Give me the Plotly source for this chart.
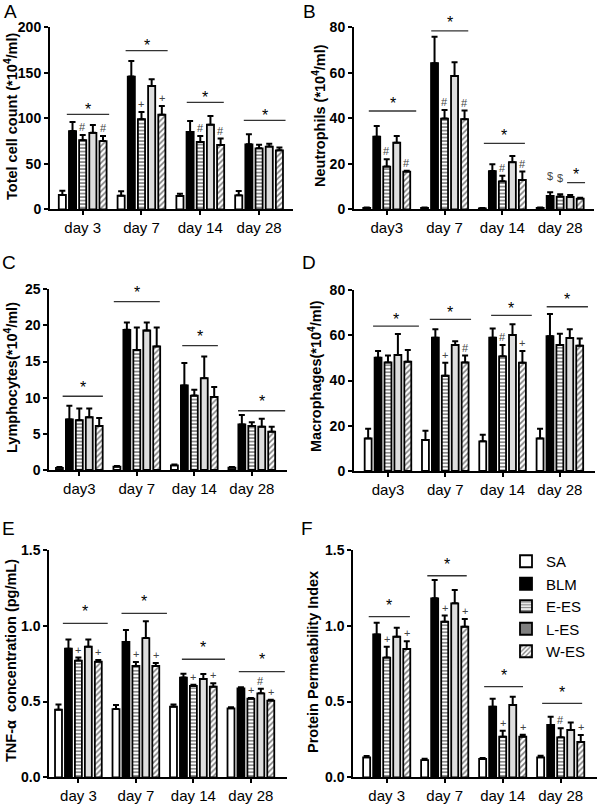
import plotly.graph_objects as go

W, H = 600, 804
FONT = "Liberation Sans"

series = ["SA", "BLM", "E-ES", "L-ES", "W-ES"]
day_pos = [0, 1, 2, 3]
ticks_sp = ["day 3", "day 7", "day 14", "day 28"]
ticks_ns = ["day3", "day 7", "day 14", "day 28"]

# ---------------- Panel A: total cell count ----------------
A_SA = [15.8, 15.0, 14.6, 15.4]
A_BLM = [86.0, 145.8, 85.0, 71.4]
A_EES = [76.0, 99.0, 74.0, 67.0]
A_LES = [84.0, 135.5, 93.0, 68.9]
A_WES = [75.0, 104.0, 70.7, 64.8]
A_SA_err = [4.7, 4.8, 2.6, 4.6]
A_BLM_err = [10.0, 17.2, 12.0, 11.0]
A_EES_err = [5.7, 8.0, 6.6, 4.0]
A_LES_err = [8.7, 7.5, 9.6, 3.1]
A_WES_err = [5.6, 9.5, 7.0, 3.2]
A_sig = [104.4, 174.4, 117.6, 97.8]

# ---------------- Panel B: neutrophils ----------------
B_SA = [0.6, 0.6, 0.4, 0.6]
B_BLM = [31.9, 64.2, 16.8, 5.9]
B_EES = [18.8, 39.9, 12.3, 5.6]
B_LES = [29.3, 58.6, 20.7, 5.4]
B_WES = [16.6, 39.6, 12.9, 4.7]
B_SA_err = [0.2, 0.2, 0.2, 0.2]
B_BLM_err = [4.7, 11.7, 3.0, 1.6]
B_EES_err = [3.2, 3.8, 2.5, 1.0]
B_LES_err = [2.9, 6.0, 2.7, 0.9]
B_WES_err = [0.4, 3.8, 3.7, 0.4]
B_sig = [43.2, 78.4, 29.0, 11.7]

# ---------------- Panel C: lymphocytes ----------------
C_SA = [0.3, 0.46, 0.65, 0.32]
C_BLM = [7.0, 19.4, 11.7, 6.3]
C_EES = [6.9, 16.6, 10.3, 6.1]
C_LES = [7.3, 19.3, 12.7, 6.0]
C_WES = [6.1, 17.1, 10.1, 5.3]
C_SA_err = [0.1, 0.1, 0.1, 0.1]
C_BLM_err = [1.9, 1.0, 3.1, 1.3]
C_EES_err = [1.6, 3.1, 0.8, 0.5]
C_LES_err = [1.2, 1.1, 3.0, 1.1]
C_WES_err = [1.1, 2.6, 1.4, 0.7]
C_sig = [10.2, 23.3, 17.2, 8.2]

# ---------------- Panel D: macrophages ----------------
D_SA = [14.4, 13.7, 13.1, 14.4]
D_BLM = [50.1, 58.9, 58.9, 59.6]
D_EES = [48.0, 42.1, 50.7, 55.7]
D_LES = [51.3, 55.7, 60.1, 58.8]
D_WES = [48.3, 48.0, 47.9, 55.4]
D_SA_err = [4.3, 4.1, 2.9, 4.3]
D_BLM_err = [2.9, 3.7, 4.1, 9.8]
D_EES_err = [3.1, 5.8, 5.0, 5.0]
D_LES_err = [9.2, 1.7, 4.8, 3.8]
D_WES_err = [5.2, 3.0, 5.1, 3.2]
D_sig = [64.0, 67.0, 68.8, 72.6]

# ---------------- Panel E: TNF-alpha ----------------
E_SA = [0.446, 0.450, 0.466, 0.455]
E_BLM = [0.849, 0.893, 0.658, 0.587]
E_EES = [0.770, 0.735, 0.603, 0.519]
E_LES = [0.862, 0.919, 0.649, 0.554]
E_WES = [0.763, 0.735, 0.598, 0.506]
E_SA_err = [0.034, 0.027, 0.014, 0.007]
E_BLM_err = [0.061, 0.079, 0.026, 0.007]
E_EES_err = [0.020, 0.026, 0.008, 0.004]
E_LES_err = [0.048, 0.111, 0.033, 0.031]
E_WES_err = [0.011, 0.019, 0.022, 0.006]
E_sig = [1.016, 1.082, 0.779, 0.697]

# ---------------- Panel F: protein permeability ----------------
F_SA = [0.132, 0.114, 0.121, 0.132]
F_BLM = [0.943, 1.181, 0.466, 0.345]
F_EES = [0.790, 1.027, 0.268, 0.264]
F_LES = [0.928, 1.148, 0.477, 0.312]
F_WES = [0.847, 0.994, 0.268, 0.233]
F_SA_err = [0.009, 0.009, 0.007, 0.011]
F_BLM_err = [0.077, 0.121, 0.053, 0.055]
F_EES_err = [0.072, 0.040, 0.040, 0.059]
F_LES_err = [0.059, 0.088, 0.055, 0.049]
F_WES_err = [0.050, 0.051, 0.013, 0.046]
F_sig = [1.060, 1.330, 0.598, 0.488]

# significance symbols: (day index, series index, symbol)
A_marks = [(0, 2, "#"), (0, 4, "#"), (1, 2, "+"), (1, 4, "+"), (2, 2, "#"), (2, 4, "#")]
B_marks = [(0, 2, "#"), (0, 4, "#"), (1, 2, "#"), (1, 4, "#"), (2, 2, "#"), (2, 4, "#"),
           (3, 1, "$"), (3, 2, "$")]
C_marks = []
D_marks = [(1, 2, "+"), (1, 4, "#"), (2, 2, "#"), (2, 4, "+")]
E_marks = [(0, 2, "+"), (0, 4, "+"), (1, 2, "+"), (1, 4, "+"), (2, 2, "+"), (2, 4, "+"),
           (3, 2, "+"), (3, 3, "#"), (3, 4, "+")]
F_marks = [(0, 2, "+"), (0, 4, "+"), (1, 2, "+"), (1, 4, "+"), (2, 2, "+"), (2, 4, "+"),
           (3, 2, "#"), (3, 4, "+")]

panels = [
    dict(letter="A", vals=[A_SA, A_BLM, A_EES, A_LES, A_WES],
         errs=[A_SA_err, A_BLM_err, A_EES_err, A_LES_err, A_WES_err],
         sig=A_sig, marks=A_marks, ticks=ticks_sp, ymax=200, yticks=[0, 50, 100, 150, 200], yfmt="",
         title="Totel cell count (*10<sup>4</sup>/ml)",
         px=(50, 293, 27.3, 209.3), xr=(-0.556, 3.577),
         span=[(-0.27, 0.45), (-0.27, 0.445), (-0.23, 0.40), (-0.26, 0.45)], star=9,
         title_pos=(11, 117), letter_pos=(10, 11)),
    dict(letter="B", vals=[B_SA, B_BLM, B_EES, B_LES, B_WES],
         errs=[B_SA_err, B_BLM_err, B_EES_err, B_LES_err, B_WES_err],
         sig=B_sig, marks=B_marks, ticks=ticks_ns, ymax=80, yticks=[0, 20, 40, 60, 80], yfmt="",
         title="Neutrophils (*10<sup>4</sup>/ml)",
         px=(354, 594, 27.3, 209.3), xr=(-0.566, 3.585),
         span=[(-0.31, 0.51), (-0.23, 0.41), (-0.32, 0.39), (0.12, 0.43)], star=12,
         title_pos=(319, 116), letter_pos=(309, 11)),
    dict(letter="C", vals=[C_SA, C_BLM, C_EES, C_LES, C_WES],
         errs=[C_SA_err, C_BLM_err, C_EES_err, C_LES_err, C_WES_err],
         sig=C_sig, marks=C_marks, ticks=ticks_ns, ymax=25, yticks=[0, 5, 10, 15, 20, 25], yfmt="",
         title="Lymphocytes(*10<sup>4</sup>/ml)",
         px=(49.3, 286.7, 289.3, 470), xr=(-0.522, 3.607),
         span=[(-0.29, 0.41), (-0.40, 0.40), (-0.21, 0.41), (-0.24, 0.58)], star=13,
         title_pos=(11, 378), letter_pos=(9, 262)),
    dict(letter="D", vals=[D_SA, D_BLM, D_EES, D_LES, D_WES],
         errs=[D_SA_err, D_BLM_err, D_EES_err, D_LES_err, D_WES_err],
         sig=D_sig, marks=D_marks, ticks=ticks_ns, ymax=80, yticks=[0, 20, 40, 60, 80], yfmt="",
         title="Macrophages(*10<sup>4</sup>/ml)",
         px=(354, 595, 290, 471), xr=(-0.593, 3.613),
         span=[(-0.26, 0.54), (-0.27, 0.45), (-0.20, 0.51), (-0.23, 0.49)], star=11,
         title_pos=(315, 376), letter_pos=(309, 262)),
    dict(letter="E", vals=[E_SA, E_BLM, E_EES, E_LES, E_WES],
         errs=[E_SA_err, E_BLM_err, E_EES_err, E_LES_err, E_WES_err],
         sig=E_sig, marks=E_marks, ticks=ticks_sp, ymax=1.5, yticks=[0, 0.5, 1.0, 1.5], yfmt=".1f",
         title="TNF-\u03b1  concentration (pg/mL)",
         px=(49.3, 286.7, 550, 777.3), xr=(-0.506, 3.623),
         span=[(-0.27, 0.51), (-0.25, 0.54), (-0.20, 0.55), (-0.21, 0.59)], star=16,
         title_pos=(11, 661), letter_pos=(8, 528)),
    dict(letter="F", vals=[F_SA, F_BLM, F_EES, F_LES, F_WES],
         errs=[F_SA_err, F_BLM_err, F_EES_err, F_LES_err, F_WES_err],
         sig=F_sig, marks=F_marks, ticks=ticks_sp, ymax=1.5, yticks=[0, 0.5, 1.0, 1.5], yfmt=".1f",
         title="Protein Permeability Index",
         px=(353.3, 597, 550, 777.3), xr=(-0.576, 3.626),
         span=[(-0.31, 0.40), (-0.30, 0.38), (-0.32, 0.35), (-0.32, 0.37)], star=15,
         title_pos=(313, 662), letter_pos=(307, 528)),
]

BAR_OFFSETS = [-0.346, -0.173, 0.0, 0.173, 0.346]


def style(i, legend=False):
    line = dict(color="black", width=1.8)
    if i == 0:
        return dict(color="white", line=line)
    if i == 1:
        return dict(color="black", line=line)
    if i == 2:
        return dict(color="white", line=line,
                    pattern=dict(shape="-", fgcolor="black", bgcolor="white", size=3.5, solidity=0.45))
    if i == 3:
        return dict(color="#7f7f7f" if legend else "#dedede", line=line)
    return dict(color="white", line=line,
                pattern=dict(shape="/", fgcolor="black", bgcolor="white", size=4, solidity=0.4))


fig = go.Figure()
layout = {}
shapes = []
annotations = []

for k, p in enumerate(panels):
    n = "" if k == 0 else str(k + 1)
    xa, ya = "x" + n, "y" + n
    x0, x1, ytop, ybot = p["px"]
    for s in range(5):
        fig.add_trace(go.Bar(
            x=day_pos, y=p["vals"][s], name=series[s], showlegend=False,
            xaxis=xa, yaxis=ya, marker=style(s), hoverinfo="skip",
            error_y=dict(type="data", array=p["errs"][s], arrayminus=[0] * 4, symmetric=False,
                         color="black", thickness=2, width=3),
        ))
    layout["xaxis" + n] = dict(
        domain=[x0 / W, x1 / W], range=list(p["xr"]), anchor=ya, automargin=False,
        tickvals=day_pos, ticktext=p["ticks"], showline=True, linecolor="black", linewidth=2,
        ticks="outside", ticklen=4, tickwidth=2, tickcolor="black", showgrid=False, zeroline=False,
        tickfont=dict(family=FONT, size=15, color="black"), fixedrange=True,
    )
    layout["yaxis" + n] = dict(
        domain=[1 - ybot / H, 1 - ytop / H], range=[0, p["ymax"]], anchor=xa, automargin=False,
        tickvals=p["yticks"], tickformat=p["yfmt"], showline=True, linecolor="black", linewidth=2,
        ticks="outside", ticklen=4, tickwidth=2, tickcolor="black", showgrid=False, zeroline=False,
        tickfont=dict(family=FONT, size=14, color="black", weight="bold"), fixedrange=True,
    )
    # significance lines and stars
    for d in range(4):
        o0, o1 = p["span"][d]
        yv = p["sig"][d]
        shapes.append(dict(type="line", xref=xa, yref=ya, x0=d + o0, x1=d + o1, y0=yv, y1=yv,
                           line=dict(color="#333333", width=1.3)))
        annotations.append(dict(xref=xa, yref=ya, x=d + (o0 + o1) / 2, y=yv, text="*",
                                showarrow=False, yanchor="middle", yshift=p["star"] - 4,
                                font=dict(family=FONT, size=16, color="black")))
    for (d, s, sym) in p["marks"]:
        top = p["vals"][s][d] + p["errs"][s][d]
        annotations.append(dict(xref=xa, yref=ya, x=d + BAR_OFFSETS[s], y=top, text=sym,
                                showarrow=False, yanchor="bottom", yshift=(8 if sym == "$" else 0),
                                font=dict(family=FONT, size=11, color="#444444")))
    tx, ty = p["title_pos"]
    annotations.append(dict(xref="paper", yref="paper", x=tx / W, y=1 - ty / H, text="<b>" + p["title"] + "</b>",
                            textangle=-90, showarrow=False, xanchor="center", yanchor="middle",
                            font=dict(family=FONT, size=14.5, color="black")))
    lx, ly = p["letter_pos"]
    annotations.append(dict(xref="paper", yref="paper", x=lx / W, y=1 - ly / H, text=p["letter"],
                            showarrow=False, xanchor="center", yanchor="middle",
                            font=dict(family=FONT, size=19, color="black")))

# legend-only traces on a hidden subplot
for s in range(5):
    fig.add_trace(go.Bar(x=[5], y=[1], name=series[s], showlegend=True, xaxis="x7", yaxis="y7",
                         marker=style(s, legend=True), hoverinfo="skip"))
layout["xaxis7"] = dict(domain=[0, 0.01], range=[0, 1], visible=False, anchor="y7", automargin=False)
layout["yaxis7"] = dict(domain=[0, 0.01], range=[0, 1], visible=False, anchor="x7", automargin=False)

fig.update_layout(
    **layout,
    width=W, height=H, margin=dict(l=0, r=0, t=0, b=0, autoexpand=False),
    paper_bgcolor="white", plot_bgcolor="white",
    barmode="group", bargap=0.135, bargroupgap=0.3,
    shapes=shapes, annotations=annotations,
    font=dict(family=FONT, color="black"),
    hovermode=False,
    legend=dict(x=506 / W, y=1 - 545 / H, xanchor="left", yanchor="top",
                font=dict(family=FONT, size=15, color="black"), bgcolor="rgba(0,0,0,0)",
                itemclick=False, itemdoubleclick=False),
)

fig.write_html("out.html", config={"displayModeBar": False},
               post_script="document.body.style.margin='0';document.body.style.overflow='hidden';")
